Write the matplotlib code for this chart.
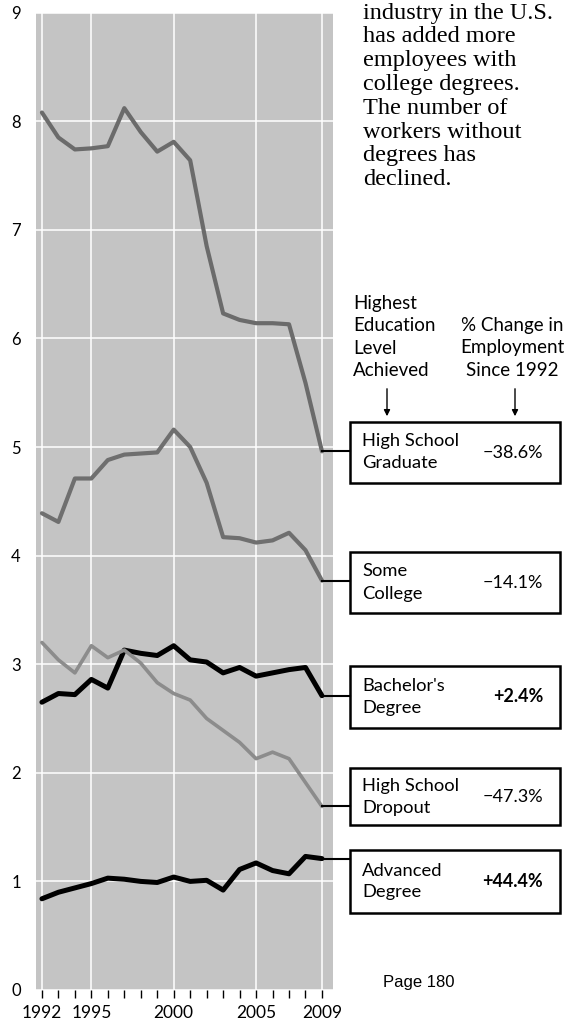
import matplotlib
matplotlib.use('Agg')
import matplotlib.pyplot as plt
from matplotlib.patches import Rectangle

# Employment by highest education level, millions of workers
years = list(range(1992, 2010))
hs_graduate = [8.08, 7.85, 7.74, 7.75, 7.77, 8.12, 7.90, 7.72, 7.81, 7.64,
               6.85, 6.23, 6.17, 6.14, 6.14, 6.13, 5.59, 4.96]
some_college = [4.39, 4.31, 4.71, 4.71, 4.88, 4.93, 4.94, 4.95, 5.16, 5.00,
                4.67, 4.17, 4.16, 4.12, 4.14, 4.21, 4.05, 3.77]
bachelors = [2.65, 2.73, 2.72, 2.86, 2.78, 3.13, 3.10, 3.08, 3.17, 3.04,
             3.02, 2.92, 2.97, 2.89, 2.92, 2.95, 2.97, 2.71]
hs_dropout = [3.20, 3.04, 2.92, 3.17, 3.06, 3.13, 3.01, 2.83, 2.73, 2.67,
              2.50, 2.39, 2.28, 2.13, 2.19, 2.13, 1.91, 1.69]
advanced = [0.84, 0.90, 0.94, 0.98, 1.03, 1.02, 1.00, 0.99, 1.04, 1.00,
            1.01, 0.92, 1.11, 1.17, 1.10, 1.07, 1.23, 1.21]

label_years = [1992, 1995, 2000, 2005, 2009]
y_ticks = list(range(10))

series_names = [['High School', 'Graduate'], ['Some', 'College'],
                ["Bachelor's", 'Degree'], ['High School', 'Dropout'],
                ['Advanced', 'Degree']]
pct_change = ['\u221238.6%', '\u221214.1%', '+2.4%', '\u221247.3%', '+44.4%']
pct_bold = [False, False, True, False, True]

intro = ['industry in the U.S.', 'has added more', 'employees with',
         'college degrees.', 'The number of', 'workers without',
         'degrees has', 'declined.']

W, H = 578, 1025
SANS = ['Lato', 'DejaVu Sans']


def fx(px):
    return px / W


def fy(py):
    return 1 - py / H


fig = plt.figure(figsize=(W / 100, H / 100), dpi=100)
ax = fig.add_axes([fx(36), fy(990), fx(333) - fx(36), fy(12.6) - fy(990)])
ax.set_facecolor('#c4c4c4')
for s in ax.spines.values():
    s.set_visible(False)

ax.set_xlim(1991.64, 2009.67)
ax.set_ylim(0, 9)

line_styles = [
    (hs_graduate, '#6b6b6b', 3.0),
    (some_college, '#6f6f6f', 3.0),
    (bachelors, 'black', 3.6),
    (hs_dropout, '#8c8c8c', 2.6),
    (advanced, 'black', 3.6),
]
for vals, col, lw in line_styles:
    ax.plot(years, vals, color=col, lw=lw, solid_joinstyle='round',
            solid_capstyle='round', zorder=3)

# gridlines and ticks
ax.set_xticks(label_years)
ax.set_xticks(years, minor=True)
ax.set_xticklabels([str(y) for y in label_years], family=SANS, fontsize=12.5)
ax.set_yticks(y_ticks)
ax.set_yticklabels([str(v) for v in y_ticks], family=SANS, fontsize=12)
ax.tick_params(axis='x', which='both', direction='out', length=6, width=1,
               color='black', pad=5)
ax.tick_params(axis='y', length=0, pad=11)
ax.grid(True, which='major', color='white', lw=1.1, zorder=1)
ax.set_axisbelow(True)

# connectors from 2009 end points to the label boxes
box_left = 350
box_right = 560
x_left_data = ax.transData.inverted().transform(
    fig.transFigure.transform((fx(box_left), 0)))[0]
for vals, _, _ in line_styles:
    ax.plot([2009, x_left_data], [vals[-1], vals[-1]], color='black',
            lw=1.5, clip_on=False, zorder=3)

# label boxes
boxes = [(422, 483), (552, 613), (666, 728), (768, 825), (850, 913)]
for (top, bot), name, pct, bold in zip(boxes, series_names, pct_change,
                                       pct_bold):
    fig.add_artist(Rectangle((fx(box_left), fy(bot)),
                             fx(box_right) - fx(box_left), fy(top) - fy(bot),
                             transform=fig.transFigure, fill=False,
                             lw=1.8, edgecolor='black'))
    mid = (top + bot) / 2
    fig.text(fx(362), fy(mid - 11), name[0], family=SANS, fontsize=13.2,
             ha='left', va='center')
    fig.text(fx(362), fy(mid + 11), name[1], family=SANS, fontsize=13.2,
             ha='left', va='center')
    fig.text(fx(543), fy(mid), pct, family=SANS, fontsize=13, ha='right',
             va='center', fontweight='bold' if bold else 'normal')

# column headers
for i, t in enumerate(['Highest', 'Education', 'Level', 'Achieved']):
    fig.text(fx(353), fy(303 + i * 22.5), t, family=SANS, fontsize=13.5,
             ha='left', va='center')
for i, t in enumerate(['% Change in', 'Employment', 'Since 1992']):
    fig.text(fx(512), fy(325 + i * 22.5), t, family=SANS, fontsize=13.5,
             ha='center', va='center')
for x in [387, 515]:
    ax.annotate('', xy=(fx(x), fy(419)), xytext=(fx(x), fy(386)),
                xycoords='figure fraction', textcoords='figure fraction',
                arrowprops=dict(arrowstyle='-|>', lw=1, color='black',
                                mutation_scale=9))

# intro text
for i, t in enumerate(intro):
    fig.text(fx(363), fy(13 + i * 23.8), t, family='Liberation Serif',
             fontsize=17.5, ha='left', va='center')

fig.text(fx(383), fy(982), 'Page 180', family='Liberation Sans',
         fontsize=12, ha='left', va='center')

fig.savefig('out.png', dpi=100)
